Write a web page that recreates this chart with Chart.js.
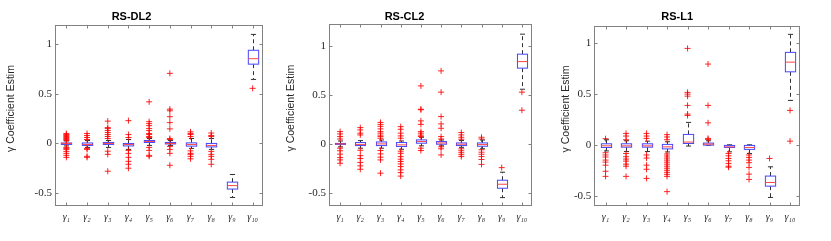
<!DOCTYPE html>
<html>
<head>
<meta charset="utf-8">
<script src="https://cdn.jsdelivr.net/npm/chart.js@4"></script>
<style>
  body { margin: 0; background: #fff; }
  canvas { position: absolute; top: 0; }
</style>
</head>
<body>
<canvas id="c1" width="277" height="241" style="left:0px"></canvas>
<canvas id="c2" width="277" height="241" style="left:277px"></canvas>
<canvas id="c3" width="277" height="241" style="left:554px"></canvas>
<script>
const categories = ['γ₁', 'γ₂', 'γ₃', 'γ₄', 'γ₅', 'γ₆', 'γ₇', 'γ₈', 'γ₉', 'γ₁₀'];
const yTicks = [-0.5, 0, 0.5, 1];
const yLabel = 'γ Coefficient Estim';

// RS-DL2
const dl2Q1  = [-0.01, -0.02, -0.01, -0.025, 0.01, -0.005, -0.027, -0.035, -0.46, 0.80];
const dl2Med = [0.0, -0.01, 0.0, -0.01, 0.02, 0.0, -0.01, -0.02, -0.425, 0.855];
const dl2Q3  = [0.005, 0.005, 0.01, 0.0, 0.03, 0.01, 0.006, 0.0, -0.39, 0.94];
const dl2Lo  = [-0.025, -0.04, -0.04, -0.06, -0.02, -0.02, -0.05, -0.06, -0.545, 0.646];
const dl2Hi  = [0.025, 0.03, 0.03, 0.04, 0.05, 0.03, 0.05, 0.05, -0.313, 1.10];
const dl2Out = [
  [0.1, 0.09, 0.08, 0.07, 0.06, 0.05, 0.04, 0.03, -0.04, -0.05, -0.06, -0.08, -0.1, -0.12, -0.14],
  [0.1, 0.08, 0.06, 0.04, -0.05, -0.06, -0.13, -0.14],
  [0.225, 0.16, 0.15, 0.13, 0.11, 0.09, 0.07, 0.05, -0.078, -0.11, -0.28],
  [0.23, 0.09, 0.06, -0.07, -0.1, -0.14, -0.18, -0.21, -0.25],
  [0.42, 0.22, 0.2, 0.18, 0.15, 0.13, 0.1, 0.09, 0.07, 0.06, -0.04, -0.07, -0.12, -0.13],
  [0.707, 0.346, 0.33, 0.27, 0.21, 0.147, 0.05, 0.04, -0.03, -0.06, -0.1, -0.22],
  [0.117, 0.1, 0.09, 0.07, -0.075, -0.1, -0.11, -0.13, -0.155],
  [0.105, 0.08, 0.07, -0.08, -0.11, -0.13, -0.16, -0.21],
  [],
  [0.556]
];

// RS-CL2
const cl2Q1  = [-0.005, -0.017, -0.017, -0.027, 0.007, -0.003, -0.017, -0.024, -0.454, 0.776];
const cl2Med = [0, -0.005, 0, -0.01, 0.024, 0.01, -0.003, -0.007, -0.413, 0.843];
const cl2Q3  = [0.005, 0.014, 0.02, 0.014, 0.041, 0.024, 0.01, 0.01, -0.372, 0.919];
const cl2Lo  = [-0.03, -0.044, -0.044, -0.055, -0.02, -0.02, -0.035, -0.05, -0.55, 0.56];
const cl2Hi  = [0.03, 0.034, 0.04, 0.03, 0.068, 0.04, 0.035, 0.04, -0.29, 1.124];
const cl2Out = [
  [0.126, 0.102, 0.075, 0.05, -0.044, -0.07, -0.105, -0.14, -0.164, -0.198],
  [0.167, 0.143, 0.11, 0.092, -0.065, -0.12, -0.15, -0.19, -0.225, -0.26],
  [0.22, 0.2, 0.18, 0.154, 0.126, 0.11, 0.09, 0.075, 0.058, -0.068, -0.102, -0.136, -0.164, -0.3],
  [0.177, 0.15, 0.11, 0.082, 0.058, -0.075, -0.096, -0.13, -0.157, -0.18, -0.205, -0.232, -0.266, -0.294, -0.33],
  [0.594, 0.355, 0.35, 0.236, 0.2, 0.126, 0.11, 0.09, 0.075, -0.044, -0.068],
  [0.748, 0.53, 0.28, 0.205, 0.16, 0.075, 0.05, -0.03, -0.05, -0.113],
  [0.116, 0.092, 0.068, 0.048, -0.05, -0.07, -0.09, -0.11, -0.13],
  [0.068, 0.05, -0.06, -0.085, -0.106, -0.13, -0.16, -0.21],
  [-0.243],
  [0.53, 0.345]
];

// RS-L1
const l1Q1  = [-0.026, -0.023, -0.023, -0.04, 0.013, -0.003, -0.026, -0.045, -0.406, 0.717];
const l1Med = [-0.01, -0.01, -0.01, -0.02, 0.027, 0.007, -0.02, -0.026, -0.37, 0.812];
const l1Q3  = [0.01, 0.01, 0.01, 0.004, 0.102, 0.017, -0.006, -0.006, -0.307, 0.908];
const l1Lo  = [-0.06, -0.066, -0.066, -0.07, -0.012, -0.005, -0.069, -0.085, -0.517, 0.436];
const l1Hi  = [0.05, 0.04, 0.036, 0.03, 0.22, 0.04, 0.0, 0.0, -0.216, 1.085];
const l1Out = [
  [0.06, -0.078, -0.1, -0.12, -0.15, -0.17, -0.2, -0.26, -0.31],
  [0.112, 0.086, 0.05, -0.085, -0.117, -0.14, -0.16, -0.19, -0.21, -0.31],
  [0.112, 0.086, 0.063, -0.1, -0.13, -0.2, -0.24, -0.33],
  [0.1, 0.077, 0.05, -0.09, -0.11, -0.13, -0.15, -0.17, -0.19, -0.21, -0.23, -0.25, -0.27, -0.29, -0.31, -0.46],
  [0.947, 0.515, 0.498, 0.478, 0.387, 0.302, 0.288],
  [0.793, 0.387, 0.216, 0.063, 0.053],
  [-0.085, -0.108, -0.134, -0.157, -0.183, -0.21, -0.22],
  [-0.1, -0.124, -0.15, -0.176, -0.222, -0.288, -0.34],
  [-0.134],
  [0.338, 0.036]
];

// draws boxes, whiskers and medians through the chart scales, plus the matlab style frame
function boxPlugin(q1, med, q3, lo, hi, labelX) {
  return {
    id: 'boxes',
    beforeDatasetsDraw(chart) {
      const ctx = chart.ctx, xs = chart.scales.x, ys = chart.scales.y;
      const half = xs.getPixelForValue(1.25) - xs.getPixelForValue(1);
      const capHalf = half / 2;
      ctx.save();
      for (let i = 0; i < q1.length; i++) {
        const x = Math.round(xs.getPixelForValue(i + 1)) + 0.5;
        const yq1 = ys.getPixelForValue(q1[i]);
        const yq3 = ys.getPixelForValue(q3[i]);
        const ylo = ys.getPixelForValue(lo[i]);
        const yhi = ys.getPixelForValue(hi[i]);
        const ymed = ys.getPixelForValue(med[i]);
        ctx.lineWidth = 1;
        // whiskers
        ctx.strokeStyle = 'rgb(50,50,50)';
        ctx.setLineDash([4, 3]);
        ctx.beginPath();
        ctx.moveTo(x, yq3); ctx.lineTo(x, yhi);
        ctx.moveTo(x, yq1); ctx.lineTo(x, ylo);
        ctx.stroke();
        ctx.setLineDash([]);
        ctx.beginPath();
        ctx.moveTo(x - capHalf, yhi); ctx.lineTo(x + capHalf, yhi);
        ctx.moveTo(x - capHalf, ylo); ctx.lineTo(x + capHalf, ylo);
        ctx.stroke();
        // box
        ctx.fillStyle = '#fff';
        ctx.fillRect(x - half, yq3, half * 2, yq1 - yq3);
        ctx.strokeStyle = 'rgb(70,70,255)';
        ctx.strokeRect(x - half, yq3, half * 2, yq1 - yq3);
        // median
        ctx.strokeStyle = 'rgb(255,70,70)';
        ctx.beginPath();
        ctx.moveTo(x - half, ymed); ctx.lineTo(x + half, ymed);
        ctx.stroke();
      }
      ctx.restore();
    },
    afterDraw(chart) {
      const ctx = chart.ctx, a = chart.chartArea, xs = chart.scales.x, ys = chart.scales.y;
      ctx.save();
      ctx.strokeStyle = 'rgb(130,130,130)';
      ctx.lineWidth = 1;
      const l = Math.round(a.left) - 0.5, r = Math.round(a.right) - 0.5;
      const t = Math.round(a.top) + 0.5, b = Math.round(a.bottom) - 0.5;
      ctx.strokeRect(l, t, r - l, b - t);
      ctx.beginPath();
      yTicks.forEach(v => {
        const y = Math.round(ys.getPixelForValue(v)) + 0.5;
        ctx.moveTo(l, y); ctx.lineTo(l + 3, y);
        ctx.moveTo(r, y); ctx.lineTo(r - 3, y);
      });
      categories.forEach((c, i) => {
        const x = Math.round(xs.getPixelForValue(i + 1)) + 0.5;
        ctx.moveTo(x, t); ctx.lineTo(x, t + 3);
        ctx.moveTo(x, b); ctx.lineTo(x, b - 3);
      });
      ctx.stroke();
      // y axis label, placed a bit above the centre like matlab does
      ctx.translate(labelX, (a.top + a.bottom) / 2 - 7);
      ctx.rotate(-Math.PI / 2);
      ctx.fillStyle = '#262626';
      ctx.font = '10.5px "Liberation Sans"';
      ctx.textAlign = 'center';
      ctx.textBaseline = 'middle';
      ctx.fillText(yLabel, 0, 0);
      ctx.restore();
    }
  };
}

function makePanel(id, title, q1, med, q3, lo, hi, out, yMin, yMax, lay) {
  const points = [];
  out.forEach((vals, i) => vals.forEach(v => points.push({ x: i + 1, y: v })));
  return new Chart(document.getElementById(id).getContext('2d'), {
    type: 'scatter',
    data: {
      datasets: [{
        data: points,
        pointStyle: 'cross',
        pointRadius: 3,
        borderColor: 'rgba(255,0,0,0.85)',
        borderWidth: 1
      }]
    },
    options: {
      responsive: false,
      animation: false,
      events: [],
      layout: { padding: { left: 0, right: lay.right, top: 0, bottom: 0 } },
      plugins: {
        legend: { display: false },
        tooltip: { enabled: false },
        title: {
          display: true,
          text: title,
          color: '#000',
          font: { family: 'Liberation Sans', size: 11, weight: 'bold' },
          padding: { top: 10, bottom: lay.titleBottom }
        }
      },
      scales: {
        x: {
          type: 'linear',
          min: 0.5,
          max: 10.5,
          grid: { display: false, drawTicks: false },
          border: { display: false },
          afterFit: s => { s.height = 35; },
          afterBuildTicks: s => { s.ticks = categories.map((c, i) => ({ value: i + 1 })); },
          ticks: {
            padding: 5,
            color: '#262626',
            maxRotation: 0,
            autoSkip: false,
            font: { family: 'Liberation Serif', size: 10, style: 'italic' },
            callback: (v, i) => categories[i]
          }
        },
        y: {
          min: yMin,
          max: yMax,
          grid: { display: false, drawTicks: false },
          border: { display: false },
          afterFit: s => { s.width = lay.yWidth; },
          afterBuildTicks: s => { s.ticks = yTicks.map(v => ({ value: v })); },
          ticks: {
            padding: 4,
            color: '#262626',
            font: { family: 'Liberation Serif', size: 11 },
            callback: v => String(v)
          }
        }
      }
    },
    plugins: [boxPlugin(q1, med, q3, lo, hi, lay.labelX)]
  });
}

makePanel('c1', 'RS-DL2', dl2Q1, dl2Med, dl2Q3, dl2Lo, dl2Hi, dl2Out, -0.631, 1.195,
  { right: 14, titleBottom: 1.8, yWidth: 56, labelX: 11 });
makePanel('c2', 'RS-CL2', cl2Q1, cl2Med, cl2Q3, cl2Lo, cl2Hi, cl2Out, -0.636, 1.225,
  { right: 22, titleBottom: 1.1, yWidth: 53, labelX: 14.5 });
makePanel('c3', 'RS-L1', l1Q1, l1Med, l1Q3, l1Lo, l1Hi, l1Out, -0.601, 1.167,
  { right: 30.7, titleBottom: 2.8, yWidth: 41.3, labelX: 12.5 });
</script>
</body>
</html>
